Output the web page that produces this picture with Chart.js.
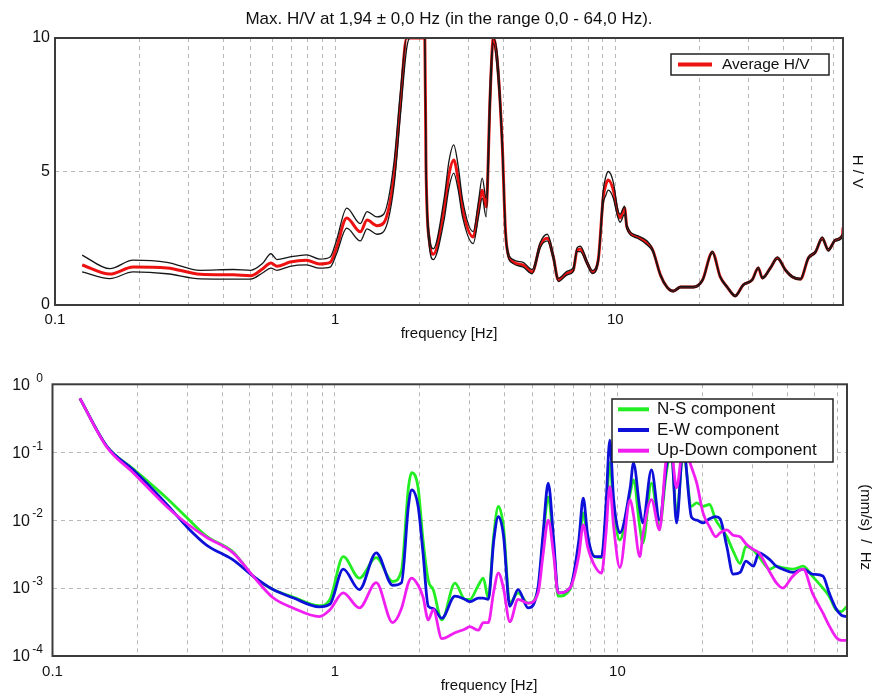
<!DOCTYPE html>
<html>
<head>
<meta charset="utf-8">
<script src="https://cdn.jsdelivr.net/npm/chart.js@4.4.1/dist/chart.umd.min.js"></script>
<style>
  html, body { margin: 0; padding: 0; background: #fff; }
  #wrap { position: relative; width: 874px; height: 696px; }
  #topBox { position: absolute; left: 0; top: 0; width: 874px; height: 345px; }
  #botBox { position: absolute; left: 0; top: 345px; width: 874px; height: 351px; }
</style>
</head>
<body>
<div id="wrap">
  <div id="topBox"><canvas id="hv"></canvas></div>
  <div id="botBox"><canvas id="spec"></canvas></div>
</div>
<script>
// --- H/V curve (top) ---
const hvFreq  = [0.125, 0.157, 0.19, 0.251, 0.33, 0.433, 0.50, 0.55, 0.59, 0.62, 0.69, 0.79, 0.88, 0.96,
  1.01, 1.10, 1.23, 1.30, 1.41, 1.49, 1.62, 1.71, 1.80, 1.85, 2.09, 2.11, 2.17, 2.24, 2.45, 2.55, 2.65, 2.75, 2.85,
  3.11, 3.25, 3.35, 3.46, 3.58, 3.67, 3.80, 3.95, 4.05, 4.11, 4.32, 4.69, 5.05, 5.40, 5.72, 6.01, 6.26,
  6.74, 7.08, 7.31, 7.50, 7.94, 8.28, 8.69, 9.06, 9.25, 9.44, 9.84, 10.2, 10.4, 10.8, 11.0, 12.0, 13.0, 13.6,
  14.5, 15.3, 16.1, 17.1, 19.0, 20.5, 22.2, 23.7, 25.1, 26.8, 28.6, 30.8, 32.4, 33.5, 35.8, 37.9, 40.5,
  42.9, 45.8, 48.9, 51.8, 54.8, 57.6, 61.1, 64.7, 65.0];
const hvAvg   = [1.50, 1.16, 1.42, 1.39, 1.15, 1.13, 1.10, 1.35, 1.57, 1.45, 1.61, 1.68, 1.54, 1.60,
  2.13, 3.26, 2.74, 3.18, 2.97, 3.07, 4.80, 7.56, 10, 10, 10, 5.3, 2.4, 1.9, 3.6, 4.9, 5.43, 4.7, 3.6,
  2.55, 3.6, 4.3, 3.67, 8.0, 10, 9.0, 6.0, 2.9, 2.1, 1.61, 1.50, 1.24, 2.25, 2.50, 1.80, 0.94,
  1.20, 1.31, 2.06, 2.10, 1.57, 1.24, 1.68, 4.04, 4.5, 4.68, 4.30, 3.45, 3.26, 3.63, 2.92, 2.55, 2.32, 2.06,
  1.12, 0.67, 0.52, 0.67, 0.67, 0.94, 1.98, 1.05, 0.67, 0.34, 0.75, 0.94, 1.39, 1.01, 1.39, 1.76, 1.31,
  1.05, 0.97, 1.76, 1.98, 2.50, 2.06, 2.43, 2.60, 2.90];
const hvUpper = [1.87, 1.36, 1.68, 1.60, 1.30, 1.33, 1.30, 1.55, 1.92, 1.70, 1.80, 1.88, 1.72, 1.80,
  2.40, 3.63, 3.05, 3.50, 3.30, 3.40, 5.30, 8.00, 10, 10, 10, 5.5, 2.6, 2.1, 4.0, 5.4, 6.0, 5.2, 3.95,
  2.75, 3.9, 4.75, 4.0, 8.5, 10, 9.3, 6.2, 3.0, 2.2, 1.70, 1.60, 1.33, 2.35, 2.65, 1.90, 1.00,
  1.27, 1.40, 2.15, 2.20, 1.65, 1.30, 1.75, 4.30, 4.8, 5.00, 4.60, 3.60, 3.40, 3.70, 3.00, 2.60, 2.40, 2.10,
  1.15, 0.70, 0.55, 0.70, 0.70, 0.97, 2.02, 1.08, 0.70, 0.37, 0.78, 0.97, 1.42, 1.04, 1.42, 1.80, 1.34,
  1.08, 1.00, 1.80, 2.02, 2.55, 2.10, 2.47, 2.65, 2.95];
const hvLower = [1.24, 0.99, 1.24, 1.17, 0.98, 0.97, 0.97, 1.20, 1.38, 1.30, 1.45, 1.50, 1.38, 1.42,
  1.90, 2.88, 2.40, 2.85, 2.65, 2.75, 4.40, 7.10, 9.6, 10, 10, 5.0, 2.2, 1.7, 3.2, 4.4, 4.94, 4.3, 3.3,
  2.30, 3.3, 4.0, 3.3, 7.5, 9.8, 8.7, 5.8, 2.8, 2.0, 1.55, 1.42, 1.17, 2.15, 2.40, 1.70, 0.88,
  1.13, 1.25, 2.00, 2.00, 1.50, 1.18, 1.60, 3.80, 4.1, 4.30, 4.00, 3.30, 3.10, 3.40, 2.85, 2.50, 2.25, 2.00,
  1.08, 0.64, 0.49, 0.64, 0.64, 0.90, 1.94, 1.02, 0.64, 0.31, 0.72, 0.91, 1.35, 0.98, 1.35, 1.72, 1.28,
  1.02, 0.94, 1.72, 1.94, 2.45, 2.02, 2.39, 2.55, 2.85];

// --- spectra (bottom), (mm/s)/Hz ---
const specFreq = [0.125, 0.156, 0.193, 0.254, 0.298, 0.351, 0.436, 0.513, 0.604, 0.71, 0.88, 0.96,
  1.07, 1.22, 1.40, 1.60, 1.72, 1.82, 1.87, 1.97, 2.05, 2.14, 2.23, 2.39, 2.66, 2.89, 3.0, 3.22, 3.35, 3.49,
  3.65, 3.79, 3.95, 4.16, 4.45, 4.83, 5.24, 5.45, 5.69, 5.95, 6.17, 6.79, 7.3, 7.57, 7.85, 8.32, 8.79,
  9.1, 9.4, 9.7, 10.2, 11.1, 11.4, 12.0, 12.3, 13.2, 14.1, 14.9, 15.5, 16.2, 17.1, 18.3, 19.1, 20.1, 21.2,
  22.3, 23.1, 24.4, 25.7, 27.2, 28.5, 30.3, 31.7, 34.7, 36.5, 38.5, 41.8, 45.5, 49.0, 53.4, 56.2, 59.4,
  62.0, 65.0];
const nsComp = [0.62, 0.121, 0.057, 0.021, 0.011, 0.0058, 0.0034, 0.0015, 0.00095, 0.00074, 0.00055, 0.00068,
  0.0029, 0.0014, 0.0028, 0.00125, 0.0018, 0.030, 0.050, 0.030, 0.0051, 0.0013, 0.00094, 0.00034, 0.00118,
  0.00068, 0.00068, 0.0011, 0.0014, 0.00071,
  0.006, 0.0159, 0.008, 0.0006, 0.00085, 0.0006, 0.00095, 0.005, 0.022, 0.004, 0.00076, 0.00095, 0.004, 0.0128,
  0.005, 0.0029, 0.0028,
  0.010, 0.07, 0.015, 0.0051, 0.025, 0.039, 0.008, 0.0046, 0.035, 0.0081, 0.05, 0.1, 0.012, 0.1, 0.016, 0.018,
  0.016, 0.017, 0.010, 0.008, 0.0057, 0.0035, 0.0023, 0.0041, 0.0036, 0.0029, 0.0019, 0.0021, 0.0020,
  0.0019, 0.0021, 0.0015, 0.0010, 0.00076, 0.00048, 0.00045, 0.00054];
const ewComp = [0.62, 0.121, 0.055, 0.017, 0.0081, 0.0043, 0.0026, 0.0015, 0.00095, 0.00072, 0.00053, 0.00058,
  0.0019, 0.00095, 0.0033, 0.0011, 0.0012, 0.016, 0.028, 0.016, 0.0033, 0.00054, 0.0005, 0.00036, 0.00076,
  0.00068, 0.00063, 0.00071, 0.00071, 0.00068,
  0.005, 0.0113, 0.006, 0.00054, 0.00095, 0.00051, 0.00105, 0.006, 0.035, 0.005, 0.00085, 0.0010, 0.005, 0.021,
  0.006, 0.0029, 0.0029,
  0.015, 0.15, 0.020, 0.0065, 0.03, 0.069, 0.015, 0.0091, 0.055, 0.010, 0.06, 0.12, 0.0091, 0.12, 0.011, 0.010,
  0.0091, 0.0105, 0.0113, 0.0105, 0.0041, 0.0016, 0.0017, 0.0025, 0.0021, 0.0033, 0.0026, 0.0021, 0.0019,
  0.0017, 0.0019, 0.0016, 0.0015, 0.00085, 0.0005, 0.0004, 0.00038];
const udComp = [0.62, 0.118, 0.05, 0.0158, 0.009, 0.0056, 0.0033, 0.0015, 0.00072, 0.00051, 0.00038, 0.00048,
  0.00085, 0.00051, 0.0012, 0.00031, 0.0005, 0.0012, 0.0014, 0.0011, 0.00074, 0.00034, 0.00048, 0.00018, 0.00022,
  0.00025, 0.00027, 0.00024, 0.00031, 0.00031,
  0.0009, 0.00166, 0.001, 0.00032, 0.00068, 0.0006, 0.00085, 0.003, 0.010, 0.003, 0.00085, 0.0010, 0.003, 0.0085,
  0.004, 0.0021, 0.00166,
  0.006, 0.031, 0.008, 0.0020, 0.020, 0.012, 0.0029, 0.006, 0.020, 0.0072, 0.08, 0.1, 0.03, 0.12,
  0.06, 0.035, 0.0128, 0.008, 0.0057, 0.0065, 0.0072, 0.006, 0.0057, 0.0045, 0.0037, 0.0033, 0.0017, 0.0012,
  0.0010, 0.0015, 0.0019, 0.00085, 0.00043, 0.00028, 0.00019, 0.00017, 0.00017];

// axis ticks
const freqGrid = [0.1, 0.2, 0.3, 0.4, 0.5, 0.6, 0.7, 0.8, 0.9, 1, 2, 3, 4, 5, 6, 7, 8, 9, 10, 20, 30, 40, 50, 60];
const freqLabels = [0.1, 1, 10];
const hvTicks = [0, 5, 10];
const specPowers = [-4, -3, -2, -1, 0];

const FONT = "'Liberation Sans', Arial, sans-serif";
Chart.defaults.font.family = FONT;
Chart.defaults.color = '#111';

const pts = (xs, ys) => xs.map((x, i) => ({ x: x, y: ys[i] }));

// frame, legend box, axis titles and 10^n labels
const decor = {
  id: 'decor',
  afterDatasetsDraw(chart, args, o) {
    const { ctx, chartArea: a } = chart;
    ctx.save();
    ctx.strokeStyle = '#3c3c3c';
    ctx.lineWidth = 2;
    ctx.strokeRect(a.left, a.top, a.right - a.left, a.bottom - a.top);

    const lg = o.legend;
    const items = chart.data.datasets.filter(d => d.label);
    ctx.fillStyle = '#fff';
    ctx.fillRect(lg.x, lg.y, lg.w, lg.h);
    ctx.strokeStyle = '#222';
    ctx.lineWidth = 1.5;
    ctx.strokeRect(lg.x, lg.y, lg.w, lg.h);
    ctx.font = lg.size + 'px ' + FONT;
    ctx.textBaseline = 'middle';
    ctx.textAlign = 'left';
    items.forEach((d, i) => {
      const y = lg.y + lg.row0 + i * lg.step;
      ctx.strokeStyle = d.borderColor;
      ctx.lineWidth = 4;
      ctx.beginPath();
      ctx.moveTo(lg.x + lg.l0, y);
      ctx.lineTo(lg.x + lg.l1, y);
      ctx.stroke();
      ctx.fillStyle = '#111';
      ctx.fillText(d.label, lg.x + lg.tx, y);
    });

    if (o.powers) {
      const ys = chart.scales.y;
      ctx.fillStyle = '#111';
      ctx.textAlign = 'right';
      specPowers.forEach(p => {
        const py = ys.getPixelForValue(Math.pow(10, p));
        ctx.font = '16px ' + FONT;
        ctx.fillText('10', 30, py + 1);
        ctx.font = '12px ' + FONT;
        ctx.fillText(String(p), 43, py - 6);
      });
    }

    // x axis title (not always centred under the plot)
    ctx.fillStyle = '#111';
    ctx.textAlign = 'center';
    ctx.font = '15px ' + FONT;
    ctx.fillText('frequency [Hz]', o.xTitle.x, o.xTitle.y);

    const rt = o.rightTitle;
    ctx.translate(rt.x, (a.top + a.bottom) / 2 + rt.dy);
    ctx.rotate(Math.PI / 2);
    ctx.font = rt.size + 'px ' + FONT;
    ctx.fillText(rt.text, 0, 0);
    ctx.restore();
  }
};

function freqAxis(tickPad) {
  return {
    type: 'logarithmic', min: 0.1, max: 65,
    afterBuildTicks: s => { s.ticks = freqGrid.map(v => ({ value: v })); },
    afterFit: s => { s.height = 40; },
    grid: { color: '#b8b8b8', lineWidth: 1, drawTicks: false },
    border: { display: false, dash: [4, 4] },
    ticks: {
      autoSkip: false, maxRotation: 0, padding: tickPad, font: { size: 15 },
      callback: v => freqLabels.includes(v) ? String(v) : ''
    }
  };
}

const lineEl = { tension: 0.4, cubicInterpolationMode: 'monotone' };

new Chart(document.getElementById('hv'), {
  type: 'line',
  data: {
    datasets: [
      { label: 'Average H/V', data: pts(hvFreq, hvAvg), borderColor: '#ee1111', borderWidth: 3, order: 2 },
      { data: pts(hvFreq, hvUpper), borderColor: '#161616', borderWidth: 1.3, order: 1 },
      { data: pts(hvFreq, hvLower), borderColor: '#161616', borderWidth: 1.3, order: 1 }
    ]
  },
  options: {
    responsive: true, maintainAspectRatio: false, animation: false, events: [],
    devicePixelRatio: 1,
    elements: { point: { radius: 0 }, line: lineEl },
    layout: { padding: { left: 24, right: 31, top: 0, bottom: 0 } },
    scales: {
      x: freqAxis(6),
      y: {
        min: 0, max: 10,
        afterBuildTicks: s => { s.ticks = hvTicks.map(v => ({ value: v })); },
        afterFit: s => { s.width = 31; },
        grid: { color: '#b8b8b8', drawTicks: false },
        border: { display: false, dash: [4, 4] },
        ticks: { padding: 5, font: { size: 16 } }
      }
    },
    plugins: {
      legend: { display: false },
      tooltip: { enabled: false },
      title: {
        display: true, fullSize: false,
        text: 'Max. H/V at 1,94 ± 0,0 Hz (in the range 0,0 - 64,0 Hz).',
        font: { size: 17, weight: 'normal' }, color: '#111',
        padding: { top: 9, bottom: 8.6 }
      },
      decor: {
        legend: { x: 671, y: 54, w: 158, h: 21, row0: 10.5, step: 0, l0: 7, l1: 41, tx: 51, size: 15.5 },
        xTitle: { x: 449, y: 334 },
        rightTitle: { text: 'H / V', x: 857, dy: 0, size: 15 }
      }
    }
  },
  plugins: [decor]
});

new Chart(document.getElementById('spec'), {
  type: 'line',
  data: {
    datasets: [
      { label: 'N-S component', data: pts(specFreq, nsComp), borderColor: '#22ee22', borderWidth: 2.8, order: 3 },
      { label: 'E-W component', data: pts(specFreq, ewComp), borderColor: '#0c10d8', borderWidth: 2.8, order: 2 },
      { label: 'Up-Down component', data: pts(specFreq, udComp), borderColor: '#f01ef0', borderWidth: 2.8, order: 1 }
    ]
  },
  options: {
    responsive: true, maintainAspectRatio: false, animation: false, events: [],
    devicePixelRatio: 1,
    elements: { point: { radius: 0 }, line: lineEl },
    layout: { padding: { left: 0, right: 27, top: 39.3, bottom: 0 } },
    scales: {
      x: freqAxis(7),
      y: {
        type: 'logarithmic', min: 1e-4, max: 1,
        afterBuildTicks: s => { s.ticks = specPowers.map(p => ({ value: Math.pow(10, p) })); },
        afterFit: s => { s.width = 52.5; },
        grid: { color: '#b8b8b8', drawTicks: false },
        border: { display: false, dash: [4, 4] },
        ticks: { display: false }
      }
    },
    plugins: {
      legend: { display: false },
      tooltip: { enabled: false },
      decor: {
        legend: { x: 612, y: 54, w: 221, h: 63, row0: 10.3, step: 20.7, l0: 6, l1: 37, tx: 45, size: 17 },
        powers: true,
        xTitle: { x: 489, y: 341 },
        rightTitle: { text: '(mm/s)  /  Hz', x: 865, dy: 7, size: 15 }
      }
    }
  },
  plugins: [decor]
});
</script>
</body>
</html>
